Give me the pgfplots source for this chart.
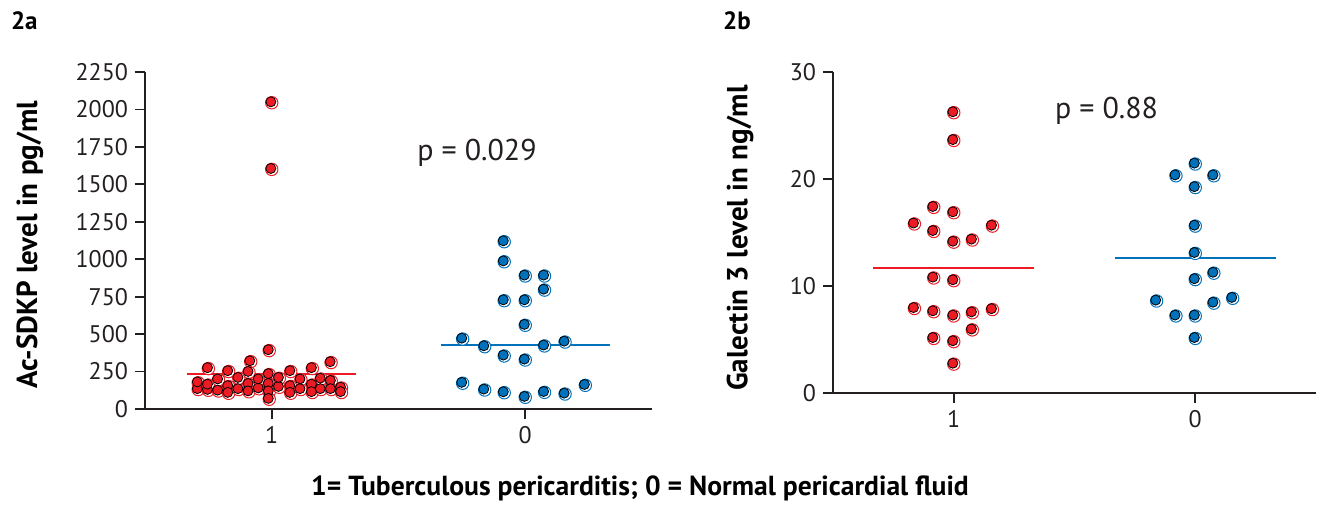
\documentclass[border=0pt]{standalone}
\usepackage{fontspec}
\setmainfont{PT Sans}
\usepackage{pgfplots}
\usepackage{pgfplotstable}
\pgfplotsset{compat=1.18}

\definecolor{tbred}{RGB}{237,28,36}
\definecolor{tbblue}{RGB}{0,114,188}
\definecolor{axgray}{RGB}{35,31,32}

% x = group position (1 = tuberculous, 2 = normal) plus swarm offset
\pgfplotstableread{
x y
1.000 2045
1.000 1600
0.990 390
0.917 316
1.234 310
0.710 130
0.710 175
0.750 270
0.750 125
0.750 160
0.790 120
0.790 195
0.830 250
0.830 150
0.830 105
0.870 130
0.870 205
0.910 245
0.910 165
0.910 115
0.950 135
0.950 195
0.990 230
0.990 165
0.990 115
0.990 65
1.030 145
1.030 205
1.075 250
1.075 150
1.075 105
1.115 130
1.115 195
1.160 270
1.160 160
1.160 110
1.195 130
1.195 200
1.235 185
1.235 130
1.275 140
1.275 110
}\redA

\pgfplotstableread{
x y
1.917 1117
1.917 983
2.000 888
2.076 888
2.076 794
1.917 723
2.000 723
2.000 559
1.753 467
1.840 416
2.076 421
2.157 447
1.917 354
2.000 327
1.753 172
1.840 127
1.917 109
2.000 78
2.076 111
2.157 100
2.237 158
}\blueA

\pgfplotstableread{
x y
1.000 26.2
1.000 23.6
0.917 17.35
1.000 16.85
0.837 15.8
0.917 15.1
1.160 15.6
1.000 14.1
1.077 14.3
0.917 10.75
1.000 10.5
0.837 7.9
0.917 7.6
1.000 7.2
1.077 7.5
1.160 7.8
1.077 5.9
0.917 5.1
1.000 4.8
1.000 2.7
}\redB

\pgfplotstableread{
x y
2.000 21.4
1.920 20.3
2.077 20.3
2.000 19.2
2.000 15.6
2.000 13.05
2.077 11.2
2.000 10.6
1.840 8.6
2.155 8.85
2.077 8.4
1.920 7.2
2.000 7.2
2.000 5.1
}\blueB

\pgfplotsset{
  ring/.style={only marks, mark=*, mark size=3.1pt,
    mark options={draw=#1, fill=white, line width=0.5pt}},
  dot/.style={only marks, mark=*, mark size=2.5pt,
    mark options={draw=none, fill=#1, xshift=-0.45pt, yshift=0.45pt}},
  swarm/.style={
    scale only axis,
    axis lines=left,
    axis line style={-, line width=0.9pt, axgray},
    tick style={line width=0.9pt, axgray},
    tick align=outside,
    major tick length=5pt,
    xmin=0.5, xmax=2.5,
    xtick={1,2}, xticklabels={1,0},
    clip=false,
    tick label style={font=\fontsize{12}{14}\selectfont, text=axgray},
    /pgf/number format/assume math mode=true,
    /pgf/number format/1000 sep={},
    ylabel style={font=\bfseries\fontsize{14.5}{16}\selectfont, text=black, anchor=center},
  },
}

\begin{document}
\begin{tikzpicture}
\useasboundingbox (0,0) rectangle (663pt,-252.5pt);

% panel 2a
\begin{axis}[swarm,
  at={(72.5pt,-204.5pt)}, anchor=south west,
  width=253.5pt, height=168.5pt,
  ymin=0, ymax=2250,
  ytick={0,250,...,2250},
  ylabel={Ac-SDKP level in pg/ml},
  ylabel style={at={(axis description cs:-0.227,0.487)}},
]
\addplot[ring=tbred] table {\redA};
\addplot[dot=tbred] table {\redA};
\addplot[ring=tbblue] table {\blueA};
\addplot[dot=tbblue] table {\blueA};
\addplot[tbred, line width=0.9pt] coordinates {(0.667,232) (1.333,232)};
\addplot[tbblue, line width=0.9pt] coordinates {(1.667,429) (2.333,429)};
\node[font=\fontsize{15}{17}\selectfont, text=axgray] at (axis cs:1.81,1709) {p = 0.029};
\end{axis}

% panel 2b
\begin{axis}[swarm,
  at={(416.5pt,-196.5pt)}, anchor=south west,
  width=241.5pt, height=160.5pt,
  ymin=0, ymax=30,
  ytick={0,10,20,30},
  ylabel={Galectin 3 level in ng/ml},
  ylabel style={at={(axis description cs:-0.1925,0.483)}},
]
\addplot[ring=tbred] table {\redB};
\addplot[dot=tbred] table {\redB};
\addplot[ring=tbblue] table {\blueB};
\addplot[dot=tbblue] table {\blueB};
\addplot[tbred, line width=0.9pt] coordinates {(0.667,11.7) (1.333,11.7)};
\addplot[tbblue, line width=0.9pt] coordinates {(1.667,12.65) (2.333,12.65)};
\node[font=\fontsize{15}{17}\selectfont, text=axgray] at (axis cs:1.633,26.4) {p = 0.88};
\end{axis}

\node[font=\bfseries\fontsize{12.5}{14}\selectfont, anchor=west] at (2pt,-10.5pt) {2a};
\node[font=\bfseries\fontsize{12.5}{14}\selectfont, anchor=west] at (358pt,-10.5pt) {2b};
\node[font=\bfseries\fontsize{13.8}{15}\selectfont] at (320pt,-244pt)
  {1= Tuberculous pericarditis; 0 = Normal pericardial fluid};
\end{tikzpicture}
\end{document}
